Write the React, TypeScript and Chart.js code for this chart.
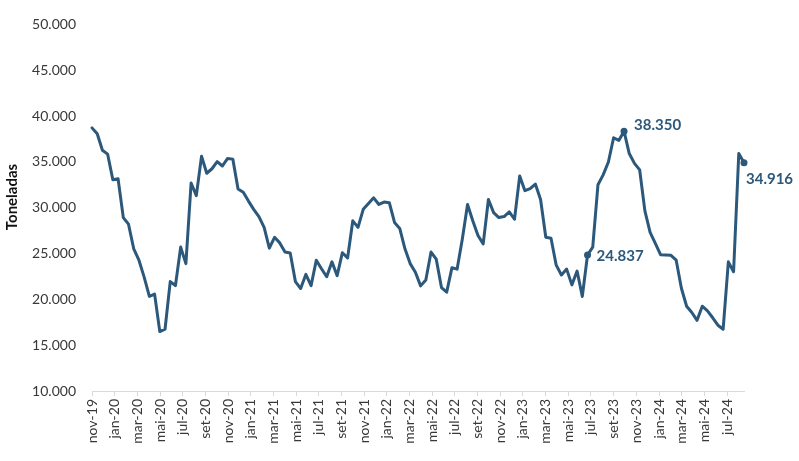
import React, { useEffect, useRef } from 'react';
import { Chart, registerables } from 'chart.js';

Chart.register(...registerables);

// Bi-monthly tick labels on the time axis (first tick = first data point)
const monthLabels = [
  'nov-19', 'jan-20', 'mar-20', 'mai-20', 'jul-20', 'set-20', 'nov-20',
  'jan-21', 'mar-21', 'mai-21', 'jul-21', 'set-21', 'nov-21',
  'jan-22', 'mar-22', 'mai-22', 'jul-22', 'set-22', 'nov-22',
  'jan-23', 'mar-23', 'mai-23', 'jul-23', 'set-23', 'nov-23',
  'jan-24', 'mar-24', 'mai-24', 'jul-24',
];

// Fortnightly volumes (toneladas), nov-2019 .. aug-2024
const values = [
  38710, 38065, 36270, 35840, 33050, 33150, 28925, 28200, 25520, 24270,
  22430, 20320, 20570, 16480, 16740, 21935, 21505, 25700, 23900, 32690,
  31320, 35620, 33760, 34250, 35020, 34550, 35380, 35300, 32040, 31690,
  30720, 29820, 29030, 27850, 25590, 26770, 26160, 25160, 25050, 21935,
  21180, 22720, 21500, 24270, 23340, 22470, 24090, 22580, 25090, 24520,
  28570, 27850, 29820, 30460, 31075, 30355, 30610, 30540, 28390, 27740,
  25520, 23900, 22950, 21470, 22120, 25160, 24380, 21290, 20785, 23440,
  23300, 26590, 30355, 28570, 26960, 26050, 30890, 29460, 28925, 29030,
  29540, 28740, 33470, 31860, 32090, 32580, 30890, 26770, 26670, 23730,
  22660, 23300, 21580, 23090, 20320, 24837, 25700, 32500, 33580, 34980,
  37630, 37340, 38350, 35910, 34840, 34120, 29650, 27310, 26100, 24870,
  24840, 24800, 24270, 21215, 19250, 18570, 17710, 19250, 18740, 17990,
  17180, 16740, 24090, 23010, 35910, 34916,
];

// Points that carry a value label
const labeledPoints = [95, 102, 125];

const yTitle = 'Toneladas';

const periods = values.map((_, i) => String(i + 1));
const PERIOD_DAYS = 14;
const DAYS_PER_MONTH = 30.4375;
const lastMonth = ((values.length - 1) * PERIOD_DAYS) / DAYS_PER_MONTH;

const LINE_COLOR = '#2b587b';
const TEXT_COLOR = '#383838';
const FONT = 'Lato, "Open Sans", sans-serif';

const fmt = (v: number) => (v / 1000).toFixed(3);

const labelOffsets: Record<number, [number, number]> = {
  95: [9, 1],
  102: [10, -6],
  125: [2, 17],
};

const valueLabelPlugin = {
  id: 'valueLabels',
  afterDatasetsDraw(chart: any) {
    const meta = chart.getDatasetMeta(0);
    const ctx = chart.ctx;
    ctx.save();
    ctx.font = `bold 15px ${FONT}`;
    ctx.fillStyle = LINE_COLOR;
    ctx.textAlign = 'left';
    ctx.textBaseline = 'middle';
    labeledPoints.forEach((i) => {
      const p = meta.data[i];
      if (!p) return;
      const [dx, dy] = labelOffsets[i] || [8, 0];
      ctx.fillText(fmt(values[i]), p.x + dx, p.y + dy);
    });
    ctx.restore();
  },
  afterDraw(chart: any) {
    // vertical axis title
    const ctx = chart.ctx;
    ctx.save();
    ctx.translate(12.5, 197);
    ctx.rotate(-Math.PI / 2);
    ctx.font = `bold 15px ${FONT}`;
    ctx.fillStyle = '#111';
    ctx.textAlign = 'center';
    ctx.textBaseline = 'middle';
    ctx.fillText(yTitle, 0, 0);
    ctx.restore();
  },
};

export default function App() {
  const canvasRef = useRef<HTMLCanvasElement | null>(null);

  useEffect(() => {
    document.body.style.margin = '0';
    const canvas = canvasRef.current;
    if (!canvas) return;
    const chart = new Chart(canvas, {
      type: 'line',
      data: {
        labels: periods,
        datasets: [
          {
            data: values,
            xAxisID: 'x',
            yAxisID: 'y',
            borderColor: LINE_COLOR,
            backgroundColor: LINE_COLOR,
            borderWidth: 3,
            borderJoinStyle: 'round',
            borderCapStyle: 'round',
            tension: 0,
            clip: false as any,
            pointRadius: (ctx: any) => (labeledPoints.includes(ctx.dataIndex) ? 3.5 : 0),
            pointHoverRadius: 0,
            pointBackgroundColor: LINE_COLOR,
            pointBorderWidth: 0,
          },
        ],
      },
      options: {
        responsive: false,
        animation: false,
        layout: { padding: { top: 19, right: 55, left: 0, bottom: 0 } },
        plugins: {
          legend: { display: false },
          tooltip: { enabled: false },
        },
        scales: {
          x: {
            type: 'category',
            display: false,
            offset: false,
          },
          xm: {
            type: 'linear',
            axis: 'x',
            position: 'bottom',
            min: 0,
            max: lastMonth,
            ticks: {
              stepSize: 2,
              includeBounds: false,
              autoSkip: false,
              minRotation: 90,
              maxRotation: 90,
              padding: 3,
              color: TEXT_COLOR,
              font: { family: FONT, size: 14 },
              callback: (v: any) => monthLabels[Math.round(Number(v) / 2)] ?? '',
            },
            grid: {
              drawOnChartArea: false,
              drawTicks: true,
              tickLength: 5,
              color: '#d9d9d9',
            },
            border: { display: true, color: '#d9d9d9', width: 1 },
            afterFit: (s: any) => {
              s.height = 70;
            },
          } as any,
          y: {
            type: 'linear',
            min: 10000,
            max: 50000,
            ticks: {
              stepSize: 5000,
              padding: 16,
              color: TEXT_COLOR,
              font: { family: FONT, size: 14 },
              callback: (v: any) => fmt(Number(v)),
            },
            grid: { display: false, drawTicks: false },
            border: { display: false },
            afterFit: (s: any) => {
              s.width = 92;
            },
          },
        },
      },
      plugins: [valueLabelPlugin],
    });
    return () => chart.destroy();
  }, []);

  return (
    <div style={{ width: 799, height: 461, position: 'relative', background: '#fff' }}>
      <canvas ref={canvasRef} width={799} height={461} />
    </div>
  );
}
